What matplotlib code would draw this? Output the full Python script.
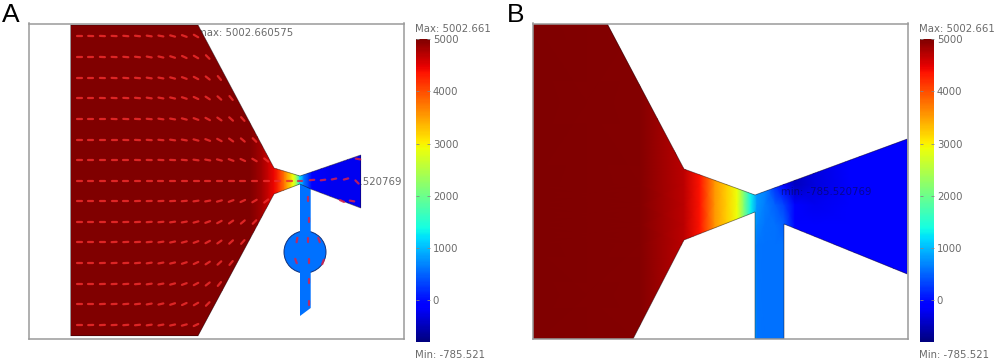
import numpy as np
import matplotlib
matplotlib.use('Agg')
import matplotlib.pyplot as plt
from matplotlib.patches import Polygon, Circle
from matplotlib.collections import LineCollection
from matplotlib.cm import ScalarMappable
from matplotlib.colors import Normalize

W, H = 1000, 364
VMIN, VMAX = -785.521, 5002.661
bar_ticks = [0, 1000, 2000, 3000, 4000, 5000]

# panel A geometry (picture pixels)
a_body = [(70.5, 25), (198, 25), (274, 168), (300, 176), (360.7, 155), (360.7, 208),
          (310.7, 189), (300, 184), (274, 194), (198, 335.7), (70.5, 335.7)]
a_channel = [(300, 182), (310.7, 188), (310.7, 308), (300, 316)]
a_circle = (305, 252, 21)
a_channel_value = 590

# panel A field along the flow
a_x = [70, 250, 262, 274, 280, 287, 293, 297, 300, 304, 312, 330, 361]
a_field = [5002, 5000, 4800, 4450, 4100, 3500, 2900, 2200, 1200, 600, -100, -200, -200]

# panel A velocity arrows, degrees below horizontal, one list per row
arrow_x0, arrow_dx = 79, 11.7
arrow_y = [36, 57, 78, 98, 119, 140, 160, 181, 201, 222, 242, 263, 284, 304, 325]
arrow_deg = [
    [0, 2, 3, 3, 5, 6, 8, 10, 15, 20, 30],
    [0, 0, 3, 3, 5, 6, 10, 13, 18, 25, 30, 45],
    [0, 0, 2, 3, 4, 5, 8, 10, 15, 20, 28, 38, 50],
    [0, 0, 2, 3, 3, 5, 8, 10, 13, 18, 25, 33, 42, 50],
    [0, 0, 0, 3, 3, 3, 5, 8, 10, 15, 20, 28, 35, 42, 48],
    [0, 0, 0, 0, 2, 3, 4, 5, 8, 10, 15, 20, 28, 35, 40, 45],
    [0, 0, 0, 0, 0, 2, 2, 3, 3, 5, 8, 10, 15, 20, 25, 30, 38],
    [0, 0, 0, 0, 0, 0, 0, 0, 0, 0, 0, 0, 0, 0, 0, 0, 0, 0, 0],
    [0, 0, 0, 0, 0, -2, -2, -3, -3, -5, -8, -10, -15, -20, -25, -30, -38],
    [0, 0, 0, 0, -2, -3, -4, -5, -8, -10, -15, -20, -28, -35, -40, -45],
    [0, 0, 0, -3, -3, -3, -5, -8, -12, -15, -20, -28, -35, -42, -48],
    [0, 0, -2, -3, -3, -5, -8, -10, -13, -18, -25, -33, -42, -50],
    [0, 0, -2, -3, -4, -5, -8, -10, -15, -20, -28, -38, -50],
    [0, 0, -3, -3, -5, -6, -10, -13, -18, -25, -30, -45],
    [0, -2, -3, -3, -5, -6, -8, -10, -12, -15, -25],
]
# arrows in the outlet, channel and chamber: x, y, degrees
low_x = [300, 312, 323, 334, 346, 357, 358, 342, 352,
         308, 309, 297, 308, 319, 296, 309, 323, 309, 309]
low_y = [181, 180, 180, 179, 179, 182, 159, 201, 201,
         199, 220, 240, 240, 240, 261, 261, 262, 281, 303]
low_deg = [0, -5, -8, -12, -15, 45, 10, 25, 10,
           90, 90, 100, 90, 70, 70, 90, 110, 90, 90]

# panel B geometry
b_body = [(533, 23.5), (607, 23.5), (684, 169), (755, 195), (907.3, 139), (907.3, 274),
          (784, 224), (784, 339), (755, 339), (755, 212), (684, 240), (633, 339), (533, 339)]

# panel B field
b_x = [533, 640, 684, 700, 715, 727, 737, 744, 751, 757, 765, 775, 784, 795, 815, 850, 907]
b_y = [20, 185, 205, 225, 245, 345]
b_field = [
    [5002, 4980, 4700, 4350, 3555, 3200, 2920, 2110, 1300, 778, 700, 200, -100, -300, -200, -130, -100],
    [5002, 4980, 4700, 4350, 3555, 3200, 2920, 2110, 1300, 778, 700, 200, -100, -450, -300, -150, -100],
    [5002, 4980, 4700, 4350, 3555, 3200, 2920, 2110, 1300, 778, 650, 500, 300, -100, -200, -130, -100],
    [5002, 4980, 4700, 4350, 3555, 3200, 2920, 2110, 1300, 700, 600, 580, 500, -100, -150, -120, -100],
    [5002, 4980, 4700, 4350, 3555, 3200, 2920, 2110, 1300, 600, 590, 590, 590, -100, -120, -110, -100],
    [5002, 4980, 4700, 4350, 3555, 3200, 2920, 2110, 1300, 600, 590, 590, 590, -100, -100, -100, -100],
]

plt.rcParams['font.family'] = ['DejaVu Sans']
GRAY = '#6a6a6a'
ARROW_RED = '#ee2c2c'
ARROW_BLUE = '#d8204c'

fig = plt.figure(figsize=(W / 100, H / 100), dpi=100)
norm = Normalize(VMIN, VMAX)
cmap = plt.get_cmap('jet')


def px_axes(x0, y0, x1, y1):
    return fig.add_axes([x0 / W, 1 - y1 / H, (x1 - x0) / W, (y1 - y0) / H])


def panel(x0, x1):
    ax = px_axes(x0, 23.5, x1, 339)
    ax.set_xlim(x0, x1)
    ax.set_ylim(339, 23.5)
    ax.set_xticks([])
    ax.set_yticks([])
    for s in ax.spines.values():
        s.set_color('#9a9a9a')
        s.set_linewidth(1.1)
        s.set_zorder(8)
    return ax


def colorbar(x0, x1):
    cax = px_axes(x0, 39, x1, 341.5)
    sm = ScalarMappable(norm=norm, cmap=cmap)
    cb = fig.colorbar(sm, cax=cax, ticks=bar_ticks)
    cb.outline.set_visible(False)
    cb.ax.tick_params(length=2, width=0.6, color='#888888', pad=2,
                      labelsize=7.3, labelcolor=GRAY, direction='in', left=True, right=True)
    cb.ax.set_yticklabels([str(t) for t in bar_ticks])
    fig.text((x0 - 1) / W, 1 - 29 / H, 'Max: 5002.661', fontsize=7.3, color=GRAY, va='center')
    fig.text((x0 - 1) / W, 1 - 355 / H, 'Min: -785.521', fontsize=7.3, color=GRAY, va='center')


def field(ax, x, y, c, outline):
    patch = Polygon(outline, closed=True, facecolor='none', edgecolor=(0.08, 0.02, 0.05, 0.5),
                    linewidth=0.6, zorder=4)
    ax.add_patch(patch)
    m = ax.pcolormesh(x, y, c, shading='gouraud', cmap=cmap, norm=norm, zorder=3)
    m.set_clip_path(patch)


def dashes(ax, x, y, deg, color, length):
    x, y, rad = np.array(x), np.array(y), np.radians(deg)
    dx, dy = length / 2 * np.cos(rad), length / 2 * np.sin(rad)
    segs = np.stack([np.column_stack([x - dx, y - dy]), np.column_stack([x + dx, y + dy])], axis=1)
    ax.add_collection(LineCollection(segs, colors=color, linewidths=1.6, alpha=0.85,
                                     capstyle='round', zorder=6))


# panel A
ax = panel(28.5, 403.5)
ax.text(197, 33.5, 'max: 5002.660575', fontsize=7.3, color=GRAY, va='center', zorder=1)
ax.text(401.5, 182, 'min: -785.520769', fontsize=7.3, color=GRAY, va='center', ha='right', zorder=1)
ax.add_patch(Circle(a_circle[:2], a_circle[2], facecolor=cmap(norm(a_channel_value)),
                    edgecolor='#10307a', linewidth=0.7, zorder=2))
ax.add_patch(Polygon(a_channel, closed=True, facecolor=cmap(norm(a_channel_value)),
                     edgecolor='none', zorder=2.5))
field(ax, a_x, [20, 340], [a_field, a_field], a_body)

xs, ys, degs = [], [], []
for y, row in zip(arrow_y, arrow_deg):
    for i, d in enumerate(row):
        xs.append(arrow_x0 + arrow_dx * i)
        ys.append(y)
        degs.append(d)
dashes(ax, xs, ys, degs, ARROW_RED, 5)
dashes(ax, low_x, low_y, low_deg, ARROW_BLUE, 4.5)
colorbar(416, 430)

# panel B
ax = panel(533, 907.5)
field(ax, b_x, b_y, b_field, b_body)
ax.text(781, 192, 'min: -785.520769', fontsize=7.3, color='#0a0a40', va='center', alpha=0.55, zorder=7)
colorbar(920, 934)

fig.text(2 / W, 1 - 22 / H, 'A', fontsize=19, family='Liberation Sans', color='black')
fig.text(507 / W, 1 - 22 / H, 'B', fontsize=19, family='Liberation Sans', color='black')

fig.savefig('out.png', dpi=100)
